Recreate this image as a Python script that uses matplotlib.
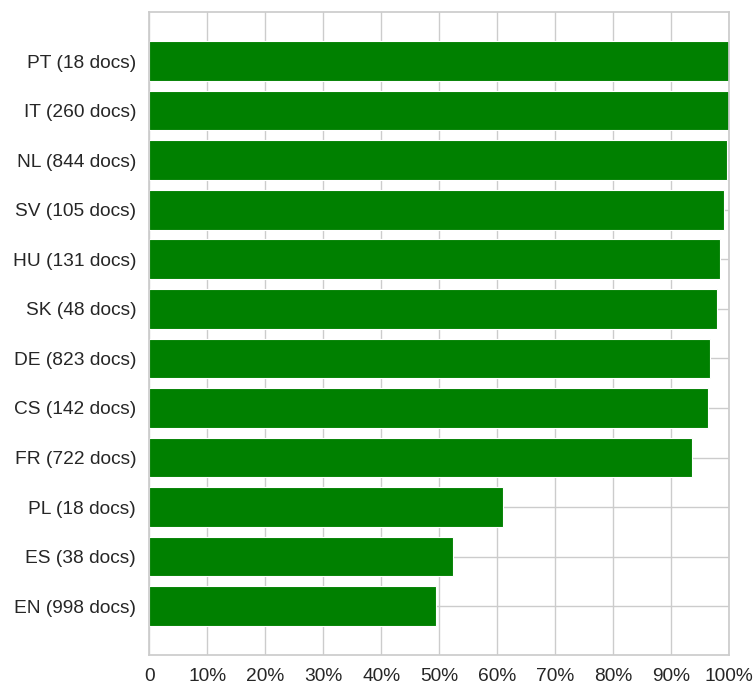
import matplotlib
matplotlib.use("Agg")
import matplotlib.pyplot as plt
from matplotlib.ticker import FuncFormatter
import seaborn as sns

# Share of documents per language, listed top to bottom as in the chart.
languages = ["PT", "IT", "NL", "SV", "HU", "SK", "DE", "CS", "FR", "PL", "ES", "EN"]
doc_counts = [18, 260, 844, 105, 131, 48, 823, 142, 722, 18, 38, 998]
share = [1.000, 1.000, 0.996, 0.990, 0.984, 0.978, 0.966, 0.964, 0.936, 0.610, 0.524, 0.494]

sns.set_theme(style="whitegrid", font_scale=1.25)
plt.rcParams["font.family"] = ["Liberation Sans", "DejaVu Sans"]

labels = [f"{lang} ({n} docs)" for lang, n in zip(languages, doc_counts)]

fig = plt.figure(figsize=(7.55, 6.85), dpi=100)
ax = fig.add_axes([0.1978, 0.0434, 0.7682, 0.9391])

ax.barh(labels, share, color="green", edgecolor="white", linewidth=0.8)
ax.invert_yaxis()

ax.set_xlim(0, 1)
ax.set_xticks([i / 10 for i in range(11)])
ax.xaxis.set_major_formatter(FuncFormatter(lambda v, _: "0" if v == 0 else f"{v * 100:.0f}%"))
ax.set_axisbelow(True)

for spine in ax.spines.values():
    spine.set_color("#cccccc")

fig.savefig("out.png", dpi=100, facecolor="white")
plt.close(fig)
